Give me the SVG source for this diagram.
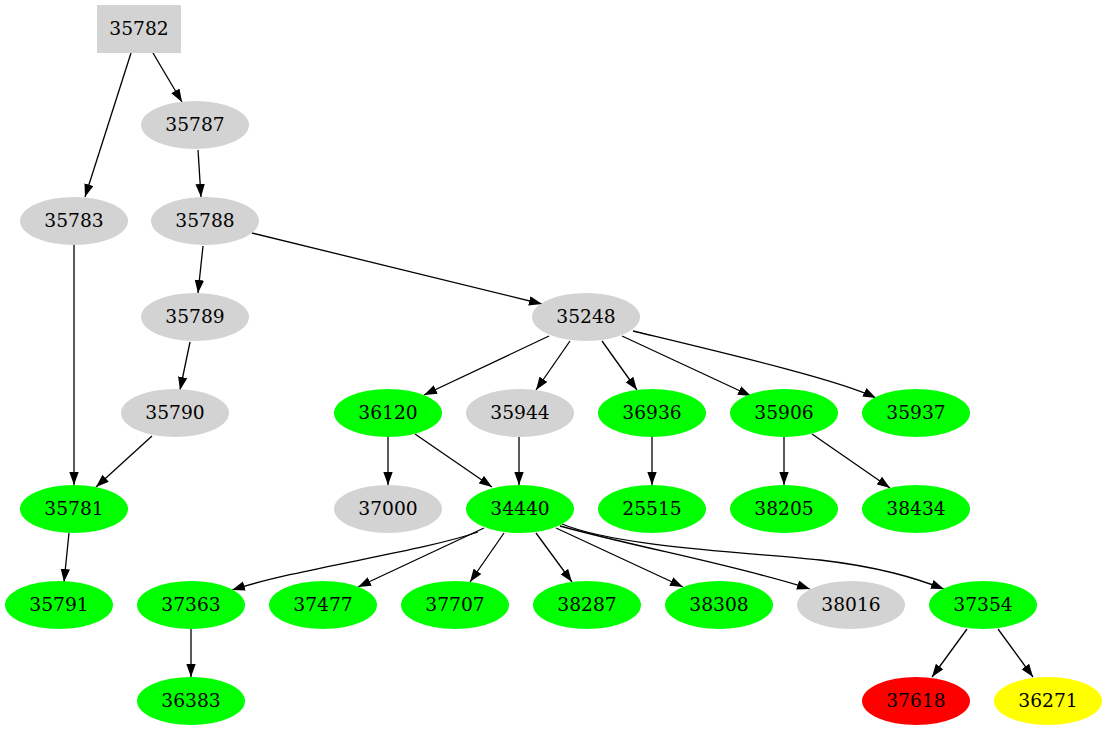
<svg xmlns="http://www.w3.org/2000/svg" width="1107" height="731" viewBox="0 0 1107 731">
<style>
text{font-family:"DejaVu Serif","Liberation Serif",serif;font-size:18.67px;text-anchor:middle;fill:#000}
.g{fill:#d3d3d3}.gr{fill:#00ff00}.r{fill:#ff0000}.y{fill:#ffff00}
#edges path{fill:none;stroke:#000;stroke-width:1.3;marker-end:url(#ah)}
</style>
<defs>
<marker id="ah" markerUnits="userSpaceOnUse" markerWidth="14" markerHeight="10" refX="13" refY="4.7" orient="auto">
<path d="M0,0 L13,4.7 L0,9.4 Z" fill="#000"/>
</marker>
</defs>
<rect width="1107" height="731" fill="#fff"/>
<g id="edges">
<path d="M131,53 L85,197"/>
<path d="M153,53 L182,102"/>
<path d="M198,150 L201,197"/>
<path d="M74,245 L74,485"/>
<path d="M203,246 L198,293"/>
<path d="M252,233 L542,304"/>
<path d="M190,342 L180,390"/>
<path d="M152,436 L96,487"/>
<path d="M69,533 L64,582"/>
<path d="M549,336 L424,395"/>
<path d="M570,341 L536,390"/>
<path d="M602,341 L637,390"/>
<path d="M622,336 L751,396"/>
<path d="M633,331 C720,352 840,380 876,398"/>
<path d="M388,437 L388,485"/>
<path d="M415,434 L492,487"/>
<path d="M519,437 L519,485"/>
<path d="M652,437 L652,485"/>
<path d="M784,437 L784,485"/>
<path d="M812,434 L890,488"/>
<path d="M478,532 C420,552 300,568 232,590"/>
<path d="M484,528 L358,587"/>
<path d="M504,533 L470,582"/>
<path d="M536,533 L572,582"/>
<path d="M556,528 L683,587"/>
<path d="M560,526 C640,548 740,566 810,589"/>
<path d="M562,524 C620,548 760,553 820,560 C880,567 915,578 944,589"/>
<path d="M191,629 L191,677"/>
<path d="M967,629 L932,677"/>
<path d="M998,629 L1033,677"/>
</g>
<g id="n35782"><rect x="97" y="5" width="84" height="48" class="g"/><text x="139" y="35">35782</text></g>
<g id="n35787"><ellipse cx="195" cy="125" rx="54" ry="24" class="g"/><text x="195" y="131">35787</text></g>
<g id="n35783"><ellipse cx="74" cy="221" rx="54" ry="24" class="g"/><text x="74" y="227">35783</text></g>
<g id="n35788"><ellipse cx="205" cy="221" rx="54" ry="24" class="g"/><text x="205" y="227">35788</text></g>
<g id="n35789"><ellipse cx="195" cy="317" rx="54" ry="24" class="g"/><text x="195" y="323">35789</text></g>
<g id="n35248"><ellipse cx="586" cy="317" rx="54" ry="24" class="g"/><text x="586" y="323">35248</text></g>
<g id="n35790"><ellipse cx="175" cy="413" rx="54" ry="24" class="g"/><text x="175" y="419">35790</text></g>
<g id="n36120"><ellipse cx="388" cy="413" rx="54" ry="24" class="gr"/><text x="388" y="419">36120</text></g>
<g id="n35944"><ellipse cx="520" cy="413" rx="54" ry="24" class="g"/><text x="520" y="419">35944</text></g>
<g id="n36936"><ellipse cx="652" cy="413" rx="54" ry="24" class="gr"/><text x="652" y="419">36936</text></g>
<g id="n35906"><ellipse cx="784" cy="413" rx="54" ry="24" class="gr"/><text x="784" y="419">35906</text></g>
<g id="n35937"><ellipse cx="916" cy="413" rx="54" ry="24" class="gr"/><text x="916" y="419">35937</text></g>
<g id="n35781"><ellipse cx="74" cy="509" rx="54" ry="24" class="gr"/><text x="74" y="515">35781</text></g>
<g id="n37000"><ellipse cx="388" cy="509" rx="54" ry="24" class="g"/><text x="388" y="515">37000</text></g>
<g id="n34440"><ellipse cx="520" cy="509" rx="54" ry="24" class="gr"/><text x="520" y="515">34440</text></g>
<g id="n25515"><ellipse cx="652" cy="509" rx="54" ry="24" class="gr"/><text x="652" y="515">25515</text></g>
<g id="n38205"><ellipse cx="784" cy="509" rx="54" ry="24" class="gr"/><text x="784" y="515">38205</text></g>
<g id="n38434"><ellipse cx="916" cy="509" rx="54" ry="24" class="gr"/><text x="916" y="515">38434</text></g>
<g id="n35791"><ellipse cx="59" cy="605" rx="54" ry="24" class="gr"/><text x="59" y="611">35791</text></g>
<g id="n37363"><ellipse cx="191" cy="605" rx="54" ry="24" class="gr"/><text x="191" y="611">37363</text></g>
<g id="n37477"><ellipse cx="323" cy="605" rx="54" ry="24" class="gr"/><text x="323" y="611">37477</text></g>
<g id="n37707"><ellipse cx="455" cy="605" rx="54" ry="24" class="gr"/><text x="455" y="611">37707</text></g>
<g id="n38287"><ellipse cx="587" cy="605" rx="54" ry="24" class="gr"/><text x="587" y="611">38287</text></g>
<g id="n38308"><ellipse cx="719" cy="605" rx="54" ry="24" class="gr"/><text x="719" y="611">38308</text></g>
<g id="n38016"><ellipse cx="851" cy="605" rx="54" ry="24" class="g"/><text x="851" y="611">38016</text></g>
<g id="n37354"><ellipse cx="983" cy="605" rx="54" ry="24" class="gr"/><text x="983" y="611">37354</text></g>
<g id="n36383"><ellipse cx="191" cy="701" rx="54" ry="24" class="gr"/><text x="191" y="707">36383</text></g>
<g id="n37618"><ellipse cx="916" cy="701" rx="54" ry="24" class="r"/><text x="916" y="707">37618</text></g>
<g id="n36271"><ellipse cx="1048" cy="701" rx="54" ry="24" class="y"/><text x="1048" y="707">36271</text></g>
</svg>
